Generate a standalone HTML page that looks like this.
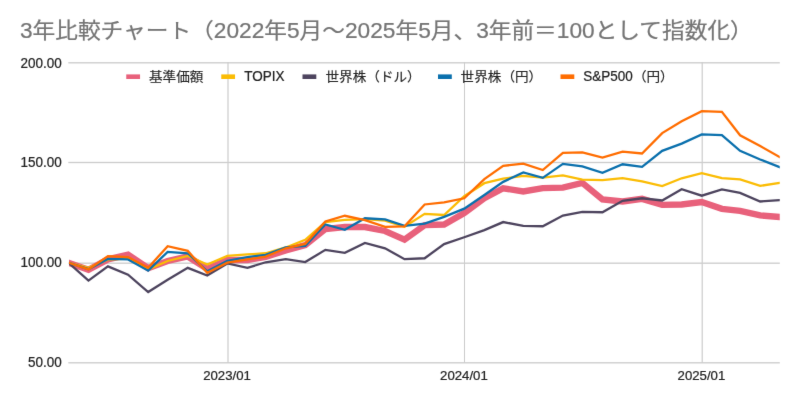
<!DOCTYPE html>
<html lang="ja"><head><meta charset="utf-8"><title>3年比較チャート</title>
<style>html,body{margin:0;padding:0;background:#fff;overflow:hidden}svg{display:block}text{font-family:"Liberation Sans","Noto Sans CJK JP",sans-serif}</style></head>
<body>
<svg width="800" height="403" viewBox="0 0 800 403">
<defs>
<filter id="soft" x="0" y="0" width="800" height="403" filterUnits="userSpaceOnUse" color-interpolation-filters="sRGB"><feConvolveMatrix order="3" kernelMatrix="0.00524 0.06192 0.00524 0.06192 0.73137 0.06192 0.00524 0.06192 0.00524" edgeMode="duplicate" preserveAlpha="false"/></filter>
<clipPath id="plot"><rect x="69" y="40" width="710.75" height="340"/></clipPath>
</defs>
<g filter="url(#soft)">
<rect width="800" height="403" fill="#fff"/>
<text transform="translate(19.9 38.0) scale(1 0.93)" font-size="22.7" fill="#757575" stroke="#757575" stroke-width="0.25"><tspan font-size="24.41" textLength="12.62" lengthAdjust="spacingAndGlyphs">3</tspan>年比較チャート（<tspan font-size="24.41" textLength="50.50" lengthAdjust="spacingAndGlyphs">2022</tspan>年<tspan font-size="24.41" textLength="12.62" lengthAdjust="spacingAndGlyphs">5</tspan>月〜<tspan font-size="24.41" textLength="50.50" lengthAdjust="spacingAndGlyphs">2025</tspan>年<tspan font-size="24.41" textLength="12.62" lengthAdjust="spacingAndGlyphs">5</tspan>月、<tspan font-size="24.41" textLength="12.62" lengthAdjust="spacingAndGlyphs">3</tspan>年前＝<tspan font-size="24.41" textLength="37.87" lengthAdjust="spacingAndGlyphs">100</tspan>として指数化）</text>
<rect x="68.3" y="362.13" width="711.5" height="1.33" fill="#cccccc"/>
<rect x="68.3" y="262.53" width="711.5" height="1.33" fill="#cccccc"/>
<rect x="68.3" y="161.83" width="711.5" height="1.33" fill="#cccccc"/>
<rect x="68.3" y="62.13" width="711.5" height="1.33" fill="#cccccc"/>
<rect x="227.40" y="62.2" width="1.20" height="300.6" fill="#cccccc"/>
<rect x="464.00" y="62.2" width="1.00" height="300.6" fill="#cccccc"/>
<rect x="701.60" y="62.2" width="1.20" height="300.6" fill="#cccccc"/>
<rect x="126.25" y="74.4" width="13.8" height="4.6" fill="#e8617b"/>
<text transform="translate(149.00 80.70) scale(1 0.96)" font-size="13.6" fill="#262626" stroke="#262626" stroke-width="0.15">基準価額</text>
<rect x="221.25" y="74.4" width="13.8" height="4.6" fill="#fbbc04"/>
<text transform="translate(244.20 81.10) scale(1 1.05)" font-size="13.5" fill="#222" stroke="#222" stroke-width="0.22" text-anchor="start">TOPIX</text>
<rect x="302.50" y="74.4" width="13.8" height="4.6" fill="#4d445e"/>
<text transform="translate(325.50 80.70) scale(1 0.96)" font-size="13.6" fill="#262626" stroke="#262626" stroke-width="0.15">世界株（ドル）</text>
<rect x="438.00" y="74.4" width="13.8" height="4.6" fill="#0a70ad"/>
<text transform="translate(460.60 80.70) scale(1 0.96)" font-size="13.6" fill="#262626" stroke="#262626" stroke-width="0.15">世界株（円）</text>
<rect x="560.50" y="74.4" width="13.8" height="4.6" fill="#ff6d01"/>
<text transform="translate(583.20 81.10) scale(1 1.05)" font-size="13.5" fill="#222" stroke="#222" stroke-width="0.22" text-anchor="start">S&amp;P500</text>
<text transform="translate(632.90 80.70) scale(1 0.96)" font-size="13.6" fill="#262626" stroke="#262626" stroke-width="0.15">（円）</text>
<text transform="translate(61.7 367.10) scale(1 1.05)" font-size="13.5" fill="#222" stroke="#222" stroke-width="0.22" text-anchor="end">50.00</text>
<text transform="translate(61.7 266.90) scale(1 1.05)" font-size="13.5" fill="#222" stroke="#222" stroke-width="0.22" text-anchor="end">100.00</text>
<text transform="translate(61.7 167.10) scale(1 1.05)" font-size="13.5" fill="#222" stroke="#222" stroke-width="0.22" text-anchor="end">150.00</text>
<text transform="translate(61.7 67.60) scale(1 1.05)" font-size="13.5" fill="#222" stroke="#222" stroke-width="0.22" text-anchor="end">200.00</text>
<text transform="translate(227.00 379.7) scale(1 1.0)" font-size="13.2" fill="#222" stroke="#222" stroke-width="0.22" text-anchor="middle">2023/01</text>
<text transform="translate(463.90 379.7) scale(1 1.0)" font-size="13.2" fill="#222" stroke="#222" stroke-width="0.22" text-anchor="middle">2024/01</text>
<text transform="translate(701.40 379.7) scale(1 1.0)" font-size="13.2" fill="#222" stroke="#222" stroke-width="0.22" text-anchor="middle">2025/01</text>
<polyline clip-path="url(#plot)" fill="none" stroke="#e8617b" stroke-width="6.4" stroke-linejoin="miter" points="60.30,259.85 68.35,262.67 88.47,269.72 107.94,259.37 128.06,254.67 148.18,268.17 167.65,260.97 187.77,256.47 207.24,268.97 227.35,260.07 247.47,260.07 265.65,256.77 285.76,250.37 305.24,245.17 325.35,229.07 344.82,227.07 364.94,227.07 385.06,230.97 404.53,239.57 424.65,225.17 444.12,224.47 464.24,212.97 484.36,198.27 503.18,188.27 523.30,191.47 542.77,188.17 562.89,187.67 582.36,182.87 602.48,199.47 622.60,201.47 642.07,198.87 662.19,204.87 681.66,204.47 701.77,202.07 721.89,208.87 740.07,210.87 760.18,215.37 779.65,216.97 787.44,217.61"/>
<polyline clip-path="url(#plot)" fill="none" stroke="#fbbc04" stroke-width="2.3" stroke-linejoin="miter" points="60.30,260.63 68.35,262.67 88.47,267.77 107.94,259.67 128.06,258.67 148.18,269.47 167.65,260.97 187.77,255.87 207.24,264.47 227.35,255.87 247.47,254.47 265.65,253.27 285.76,247.47 305.24,239.87 325.35,222.07 344.82,219.87 364.94,219.17 385.06,220.57 404.53,226.67 424.65,213.87 444.12,214.97 464.24,196.27 484.36,183.17 503.18,178.67 523.30,175.87 542.77,177.67 562.89,175.47 582.36,179.67 602.48,180.17 622.60,178.07 642.07,181.47 662.19,186.17 681.66,178.27 701.77,173.07 721.89,178.07 740.07,179.47 760.18,185.87 779.65,182.87 787.44,181.67"/>
<polyline clip-path="url(#plot)" fill="none" stroke="#4d445e" stroke-width="2.3" stroke-linejoin="miter" points="60.30,255.51 68.35,262.67 88.47,280.57 107.94,266.37 128.06,274.67 148.18,292.07 167.65,279.67 187.77,267.87 207.24,275.47 227.35,263.47 247.47,267.87 265.65,262.27 285.76,259.17 305.24,262.07 325.35,249.87 344.82,252.87 364.94,242.87 385.06,248.27 404.53,259.17 424.65,258.27 444.12,244.07 464.24,237.27 484.36,230.17 503.18,222.07 523.30,225.87 542.77,226.27 562.89,215.57 582.36,211.87 602.48,212.27 622.60,200.87 642.07,198.27 662.19,200.47 681.66,189.27 701.77,195.67 721.89,189.47 740.07,192.87 760.18,201.47 779.65,200.17 787.44,199.65"/>
<polyline clip-path="url(#plot)" fill="none" stroke="#0a70ad" stroke-width="2.3" stroke-linejoin="miter" points="60.30,260.07 68.35,262.67 88.47,269.17 107.94,258.87 128.06,259.47 148.18,270.67 167.65,251.87 187.77,253.27 207.24,271.37 227.35,260.87 247.47,257.07 265.65,254.87 285.76,247.47 305.24,245.87 325.35,224.47 344.82,229.87 364.94,218.27 385.06,219.37 404.53,225.87 424.65,223.67 444.12,216.87 464.24,208.67 484.36,195.07 503.18,181.87 523.30,172.47 542.77,177.87 562.89,163.87 582.36,166.47 602.48,172.87 622.60,164.27 642.07,166.87 662.19,150.87 681.66,143.67 701.77,134.47 721.89,135.17 740.07,150.87 760.18,159.47 779.65,167.07 787.44,170.11"/>
<polyline clip-path="url(#plot)" fill="none" stroke="#ff6d01" stroke-width="2.3" stroke-linejoin="miter" points="60.30,259.99 68.35,262.67 88.47,269.37 107.94,256.17 128.06,257.07 148.18,267.77 167.65,246.17 187.77,250.87 207.24,272.87 227.35,262.67 247.47,259.47 265.65,256.57 285.76,248.27 305.24,243.87 325.35,221.47 344.82,215.77 364.94,220.17 385.06,226.87 404.53,226.37 424.65,204.47 444.12,202.27 464.24,198.27 484.36,179.07 503.18,165.87 523.30,163.67 542.77,170.07 562.89,152.87 582.36,152.37 602.48,157.67 622.60,151.67 642.07,153.47 662.19,133.07 681.66,121.27 701.77,111.17 721.89,111.87 740.07,135.27 760.18,146.07 779.65,157.07 787.44,161.47"/>
</g>
</svg>
</body></html>
